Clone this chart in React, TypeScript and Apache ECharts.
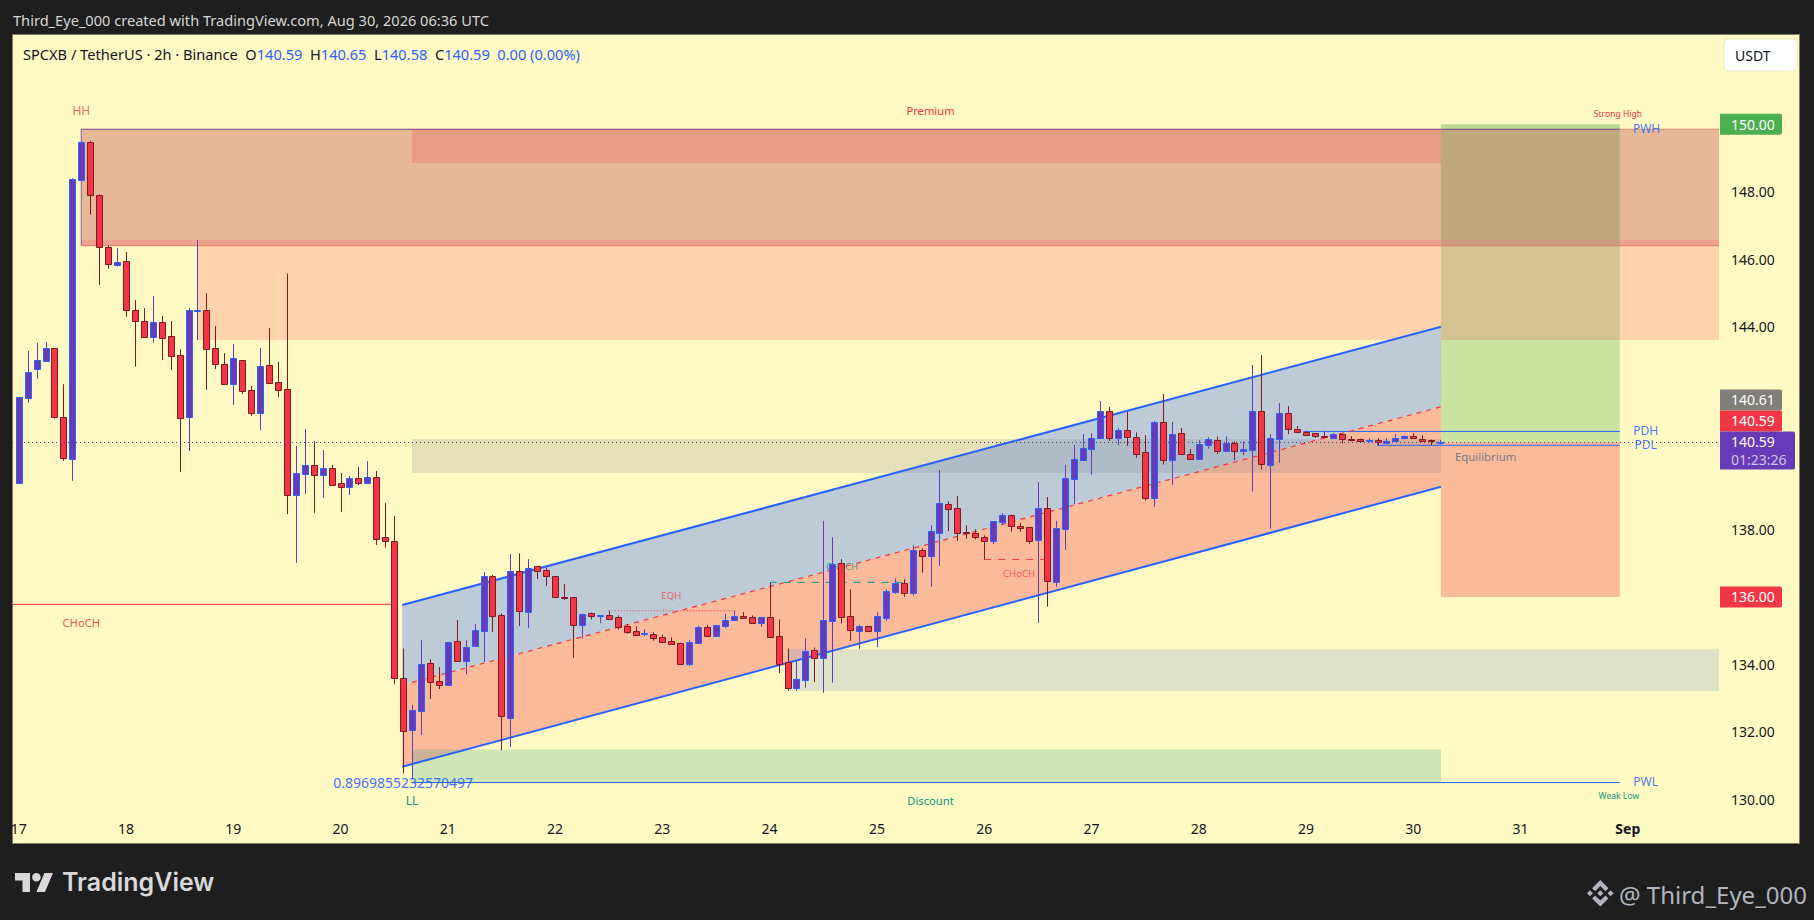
// App.tsx — SPCXB / TetherUS 2h chart with SMC zones, channel and long position box
import { useEffect, useRef } from "react";
import * as echarts from "echarts";

// open, high, low, close per 2h bar, bar 0 = Aug 17 00:00
const ohlc: number[][] = [
  [139.38, 141.91, 139.38, 141.91], [141.90, 143.28, 141.75, 142.65], [142.74, 143.52, 142.46, 143.01], [143.00, 143.55, 142.96, 143.36],
  [143.36, 143.36, 141.28, 141.34], [141.32, 142.30, 140.03, 140.12], [140.09, 148.40, 139.44, 148.38], [148.36, 149.50, 148.36, 149.46],
  [149.46, 149.50, 147.32, 147.89], [147.89, 147.92, 145.24, 146.35], [146.35, 146.41, 145.72, 145.85], [145.84, 146.33, 145.78, 145.91],
  [145.94, 146.21, 144.30, 144.49], [144.49, 144.79, 142.82, 144.18], [144.16, 144.55, 143.71, 143.71], [143.71, 144.91, 143.53, 144.13],
  [144.13, 144.32, 143.02, 143.68], [143.72, 144.17, 142.72, 143.14], [143.16, 143.33, 139.70, 141.31], [141.34, 144.56, 140.32, 144.50],
  [144.47, 146.57, 143.61, 144.49], [144.49, 144.99, 142.13, 143.35], [143.36, 144.02, 142.75, 142.91], [142.89, 143.22, 142.31, 142.31],
  [142.31, 143.49, 141.69, 143.09], [143.01, 143.01, 142.01, 142.11], [142.12, 142.25, 141.36, 141.46], [141.46, 143.37, 140.94, 142.83],
  [142.86, 143.96, 142.30, 142.34], [142.35, 142.96, 141.92, 142.14], [142.15, 145.58, 138.45, 139.03], [139.01, 140.47, 137.01, 139.66],
  [139.65, 140.97, 139.05, 139.90], [139.90, 140.61, 138.49, 139.62], [139.62, 140.35, 138.93, 139.81], [139.81, 139.91, 139.29, 139.31],
  [139.36, 139.67, 138.51, 139.26], [139.26, 139.58, 139.02, 139.51], [139.51, 139.85, 139.31, 139.38], [139.38, 140.02, 139.38, 139.54],
  [139.54, 139.73, 137.54, 137.72], [137.76, 138.78, 137.46, 137.66], [137.67, 138.39, 133.41, 133.59], [133.59, 134.47, 130.77, 132.04],
  [132.07, 132.80, 130.62, 132.64], [132.63, 134.72, 131.91, 134.00], [134.03, 134.15, 132.97, 133.49], [133.50, 133.92, 133.27, 133.40],
  [133.40, 134.65, 133.37, 134.65], [134.68, 135.31, 134.11, 134.11], [134.11, 134.72, 133.71, 134.53], [134.55, 135.20, 134.55, 135.01],
  [135.00, 136.73, 134.07, 136.62], [136.62, 136.65, 134.96, 135.44], [135.45, 135.51, 131.46, 132.48], [132.42, 137.27, 131.55, 136.76],
  [136.76, 137.29, 135.14, 135.59], [135.56, 137.12, 135.08, 136.87], [136.90, 136.91, 136.53, 136.78], [136.81, 136.87, 136.32, 136.63],
  [136.61, 136.61, 136.00, 136.00], [136.00, 136.38, 135.91, 135.99], [135.99, 136.00, 134.20, 135.18], [135.18, 135.51, 134.76, 135.48],
  [135.51, 135.54, 135.33, 135.44], [135.44, 135.45, 135.22, 135.45], [135.45, 135.58, 135.35, 135.35], [135.39, 135.45, 135.03, 135.12],
  [135.13, 135.19, 134.91, 134.97], [134.98, 135.13, 134.88, 134.88], [134.93, 135.04, 134.84, 134.94], [134.89, 134.95, 134.70, 134.79],
  [134.82, 134.89, 134.64, 134.67], [134.68, 134.80, 134.61, 134.61], [134.62, 134.65, 134.02, 134.02], [134.01, 134.72, 133.95, 134.65],
  [134.64, 135.14, 134.64, 135.10], [135.10, 135.17, 134.84, 134.85], [134.85, 135.17, 134.85, 135.16], [135.14, 135.49, 135.08, 135.33],
  [135.32, 135.60, 135.32, 135.42], [135.42, 135.55, 135.38, 135.38], [135.39, 135.45, 135.20, 135.24], [135.24, 135.39, 135.11, 135.39],
  [135.39, 136.42, 134.82, 134.82], [134.83, 135.33, 133.74, 134.02], [134.06, 134.47, 133.22, 133.31], [133.31, 134.11, 133.22, 133.56],
  [133.55, 134.77, 133.31, 134.39], [134.42, 134.50, 133.48, 134.20], [134.20, 138.25, 133.16, 135.33], [135.29, 137.77, 133.46, 136.97],
  [136.99, 137.12, 135.21, 135.41], [135.42, 136.23, 134.70, 135.03], [135.00, 135.17, 134.46, 135.13], [135.13, 135.13, 134.97, 134.99],
  [135.00, 135.55, 134.51, 135.42], [135.38, 136.23, 135.29, 136.16], [136.15, 136.55, 136.09, 136.42], [136.40, 136.53, 136.00, 136.12],
  [136.12, 137.53, 136.03, 137.38], [137.38, 137.44, 136.72, 137.22], [137.22, 138.12, 136.30, 137.94], [137.90, 139.76, 136.92, 138.77],
  [138.74, 138.83, 137.95, 138.61], [138.62, 138.99, 137.66, 137.90], [137.91, 138.12, 137.72, 137.90], [137.88, 138.00, 137.70, 137.78],
  [137.76, 137.82, 137.11, 137.66], [137.66, 138.24, 137.57, 138.24], [138.23, 138.48, 138.13, 138.44], [138.44, 138.44, 137.93, 138.09],
  [138.10, 138.19, 137.93, 138.04], [138.06, 138.06, 137.57, 137.67], [137.69, 139.40, 135.23, 138.62], [138.62, 138.96, 135.71, 136.46],
  [136.45, 138.25, 136.30, 138.03], [138.02, 139.91, 137.39, 139.51], [139.50, 140.50, 138.74, 140.07], [140.06, 140.82, 140.04, 140.40],
  [140.39, 140.85, 139.62, 140.70], [140.71, 141.80, 140.71, 141.50], [141.50, 141.62, 140.62, 140.71], [140.72, 141.00, 140.50, 140.93],
  [140.93, 141.48, 140.47, 140.74], [140.75, 140.87, 140.12, 140.24], [140.28, 140.79, 138.85, 138.94], [138.94, 141.21, 138.67, 141.17],
  [141.17, 142.01, 139.92, 140.04], [140.06, 141.18, 139.32, 140.81], [140.84, 141.00, 140.22, 140.22], [140.22, 140.38, 140.07, 140.07],
  [140.07, 140.64, 140.07, 140.52], [140.51, 140.73, 140.39, 140.67], [140.64, 140.75, 140.23, 140.31], [140.31, 140.75, 140.31, 140.55],
  [140.55, 140.61, 140.05, 140.31], [140.31, 140.61, 140.20, 140.37], [140.36, 142.87, 139.12, 141.52], [141.52, 143.16, 139.77, 139.94],
  [139.92, 140.82, 138.02, 140.70], [140.69, 141.74, 139.97, 141.46], [141.46, 141.65, 140.82, 140.96], [140.96, 141.06, 140.85, 140.89],
  [140.89, 140.91, 140.76, 140.80], [140.84, 140.84, 140.71, 140.78], [140.78, 140.90, 140.70, 140.75], [140.72, 140.85, 140.72, 140.81],
  [140.81, 140.81, 140.54, 140.69], [140.69, 140.76, 140.61, 140.68], [140.69, 140.69, 140.60, 140.61], [140.61, 140.70, 140.61, 140.66],
  [140.64, 140.70, 140.49, 140.58], [140.57, 140.70, 140.57, 140.61], [140.61, 140.82, 140.61, 140.72], [140.71, 140.78, 140.67, 140.78],
  [140.78, 140.85, 140.71, 140.71], [140.69, 140.79, 140.61, 140.63], [140.66, 140.66, 140.49, 140.61], [140.59, 140.65, 140.58, 140.59],
];

const dayTicks = [0, 12, 24, 36, 48, 60, 72, 84, 96, 108, 120, 132, 144, 156, 168, 180];
const dayLabels = ["17", "18", "19", "20", "21", "22", "23", "24", "25", "26", "27", "28", "29", "30", "31", "Sep"];
// 136, 140, 142 and 150 sit under the price tags, so only the tags show there
const priceTicks = [130, 132, 134, 138, 144, 146, 148];

const BAR_MIN = -0.75;
const BAR_MAX = 190.2;
const LAST = 140.59;

// zones: bar from, bar to, price top, price bottom
const backZones = [
  [20, BAR_MAX, 146.57, 143.61],  // premium OB
  [7, BAR_MAX, 149.85, 146.40],   // premium range
  [7, BAR_MAX, 146.57, 146.40],   // overlap of the two
  [44, 159.1, 149.85, 148.85],    // supply block
  [159.1, 179.1, 150.0, 149.85],  // long box, target side
  [159.1, 179.1, 149.85, 146.40],
  [159.1, 179.1, 146.57, 146.40],
  [159.1, 179.1, 146.40, 143.61],
  [159.1, 179.1, 143.61, 140.59],
  [159.1, 179.1, 140.59, 136.0],  // long box, stop side
];
const backFills = ["#FFD3AE", "#E6B898", "#EDA28E", "#E99C85", "#B9DC90", "#BEA87C", "#CC9A7C", "#D5C394", "#C9E4A1", "#FBBB9B"];

const frontZones = [
  [44, 159.1, 140.68, 139.67],   // equilibrium
  [44, 159.1, 131.48, 130.50],   // discount
  [86, BAR_MAX, 134.45, 133.21], // demand
];
const frontFills = ["rgba(120,123,134,0.2)", "rgba(8,153,129,0.2)", "rgba(120,160,210,0.25)"];

// ascending channel, left and right end
const channelBars = [42.9, 159.1];
const channelUpper = [135.76, 144.0];
const channelMiddle = [133.39, 141.63];
const channelLower = [130.97, 139.26];

// lines: bar, price, bar, price
const lines = [
  [7, 149.85, 179.1, 149.85],
  [179.1, 149.85, BAR_MAX, 149.85],
  [7, 149.85, 7, 146.40],
  [7, 146.40, BAR_MAX, 146.40],
  [BAR_MIN, 135.78, 42, 135.78],
  [44, 130.50, 179.1, 130.50],
  [143.7, 140.90, 179.1, 140.90],
  [152, 140.49, 179.1, 140.49],
  [152, 140.59, 152, 140.49],
  [66, 135.59, 80, 135.59],
  [84, 136.43, 100, 136.43],
  [108, 137.11, 115, 137.11],
  [channelBars[0], channelUpper[0], channelBars[1], channelUpper[1]],
  [channelBars[0], channelLower[0], channelBars[1], channelLower[1]],
  [channelBars[0], channelMiddle[0], channelBars[1], channelMiddle[1]],
];
const lineStyles = [
  { stroke: "#7A3F8F", lineWidth: 1 },
  { stroke: "#D98C73", lineWidth: 1 },
  { stroke: "#7A5FB0", lineWidth: 1 },
  { stroke: "#DE7F6C", lineWidth: 1 },
  { stroke: "#F23645", lineWidth: 1 },
  { stroke: "#2962FF", lineWidth: 1 },
  { stroke: "#2962FF", lineWidth: 1 },
  { stroke: "#2962FF", lineWidth: 1 },
  { stroke: "#2962FF", lineWidth: 1 },
  { stroke: "#F23645", lineWidth: 1, lineDash: [1, 2] },
  { stroke: "#089981", lineWidth: 1, lineDash: [7, 7] },
  { stroke: "#F23645", lineWidth: 1, lineDash: [7, 7] },
  { stroke: "#2962FF", lineWidth: 2 },
  { stroke: "#2962FF", lineWidth: 2 },
  { stroke: "#F23645", lineWidth: 1.2, lineDash: [5, 5] },
];

// chart labels
const labelTexts = ["HH", "Premium", "Strong High", "PWH", "PDH", "PDL", "PWL", "Weak Low", "Discount", "LL", "0.8969855232570497", "Equilibrium", "EQH", "CHoCH", "CHoCH", "CHoCH"];
const labelBars = [7, 102, 178.9, 182.1, 182, 182, 182, 179, 102, 44, 43, 164.1, 73, 7, 92.1, 111.9];
const labelPrices = [150.42, 150.42, 150.30, 149.86, 140.92, 140.50, 130.52, 130.11, 129.98, 129.96, 130.49, 140.17, 136.05, 135.25, 136.91, 136.68];
const labelColors = ["#F23645", "#F23645", "#F23645", "#2962FF", "#2962FF", "#2962FF", "#2962FF", "#089981", "#089981", "#089981", "#2962FF", "#787B86", "#F23645", "#F23645", "#089981", "#F23645"];
const labelSizes = [12, 11.2, 8.6, 12, 12, 12, 12, 8.6, 11.2, 12, 14, 11.4, 9.6, 11.2, 9.6, 9.6];
const labelAlpha = [0.75, 1, 1, 0.85, 0.85, 0.85, 0.85, 1, 1, 1, 0.9, 1, 0.75, 0.9, 0.8, 0.75];

// price tags on the right scale
const tagTexts = ["150.00", "140.61", "140.59", "140.59", "136.00"];
const tagPrices = [150, LAST, LAST, LAST, 136];
const tagFills = ["#4CAF50", "#807F78", "#F23645", "#673AB7", "#F23645"];
const tagShift = [0, -42, -21, 0, 0];

const FONT = '"Noto Sans", sans-serif';
const UP_FILL = "#673AB7";
const UP_BORDER = "#2962FF";
const DOWN_FILL = "#F23645";
const DOWN_BORDER = "#801922";

echarts.graphic.registerShape("tvLogo", echarts.graphic.extendPath("M14 22H7V11H0V4h14v18zM28 22h-8l7.5-18h8L28 22zM16 8a4 4 0 1 0 8 0a4 4 0 1 0-8 0z", {}));
echarts.graphic.registerShape("bnbLogo", echarts.graphic.extendPath("M38.73 53.2l24.59-24.58 24.6 24.6 14.3-14.31L63.32 0 24.42 38.9l14.31 14.3zM0 63.31l14.3-14.31 14.31 14.31-14.31 14.3zM38.73 73.41l24.59 24.59 24.6-24.6 14.31 14.29-38.9 38.91-38.91-38.88-.02-.02zM98 63.31l14.3-14.31 14.31 14.3-14.31 14.32zM77.83 63.3L63.32 48.78 52.59 59.51l-1.24 1.23-2.54 2.54 14.51 14.5 14.51-14.47z", {}));

const crisp = (v: number) => Math.round(v) + 0.5;

function renderCandle(_: unknown, api: any) {
  const [i, o, h, l, c] = [0, 1, 2, 3, 4].map((d) => api.value(d));
  const up = c >= o;
  const x = crisp(api.coord([i, o])[0]);
  const top = crisp(api.coord([i, Math.max(o, c)])[1]);
  const bottom = crisp(api.coord([i, Math.min(o, c)])[1]);
  return {
    type: "group",
    children: [
      {
        type: "line",
        shape: { x1: x, y1: api.coord([i, h])[1], x2: x, y2: api.coord([i, l])[1] },
        style: { stroke: up ? UP_FILL : DOWN_BORDER, lineWidth: 1 },
      },
      {
        type: "rect",
        shape: { x: x - 3, y: top, width: 6, height: Math.max(bottom - top, 1) },
        style: { fill: up ? UP_FILL : DOWN_FILL, stroke: up ? UP_BORDER : DOWN_BORDER, lineWidth: 1 },
      },
    ],
  };
}

function zoneSeries(zones: number[][], fills: string[], z: number) {
  return {
    type: "custom", silent: true, z,
    data: zones,
    encode: { x: [0, 1], y: [2, 3] },
    renderItem: (p: { dataIndex: number }, api: any) => {
      const a = api.coord([api.value(0), api.value(2)]);
      const b = api.coord([api.value(1), api.value(3)]);
      return {
        type: "rect",
        shape: { x: a[0], y: a[1], width: b[0] - a[0], height: b[1] - a[1] },
        style: { fill: fills[p.dataIndex] },
      };
    },
  };
}

function channelSeries(top: number[], bottom: number[], fill: string) {
  return {
    type: "custom", silent: true, z: 2,
    data: channelBars.map((b, i) => [b, top[i], bottom[i]]),
    encode: { x: 0, y: [1, 2] },
    renderItem: (p: { dataIndex: number }, api: any) => {
      if (p.dataIndex !== 0) return null;
      const points = [
        api.coord([channelBars[0], top[0]]),
        api.coord([channelBars[1], top[1]]),
        api.coord([channelBars[1], bottom[1]]),
        api.coord([channelBars[0], bottom[0]]),
      ];
      return { type: "polygon", shape: { points }, style: { fill } };
    },
  };
}

export default function App() {
  const ref = useRef<HTMLDivElement>(null);

  useEffect(() => {
    if (!ref.current) return;
    const inst = echarts.init(ref.current, undefined, { renderer: "svg" });

    inst.setOption({
      animation: false,
      backgroundColor: "#1E1E1E",
      textStyle: { fontFamily: FONT },
      grid: { left: 12, top: 34, width: 1707, height: 782 },
      xAxis: {
        type: "value", min: BAR_MIN, max: BAR_MAX,
        axisLine: { show: false }, axisTick: { show: false }, splitLine: { show: false },
        axisLabel: {
          customValues: dayTicks, margin: 5, color: "#131722", fontSize: 14, fontFamily: FONT,
          formatter: (v: number) => {
            const label = dayLabels[dayTicks.indexOf(v)];
            return label === "Sep" ? `{b|${label}}` : label;
          },
          rich: { b: { fontWeight: 700, fontSize: 14, color: "#131722", fontFamily: FONT } },
        },
      },
      yAxis: {
        type: "value", position: "right", min: 129.51, max: 152.672,
        axisLine: { show: false }, axisTick: { show: false }, splitLine: { show: false },
        axisLabel: {
          customValues: priceTicks, margin: 12, color: "#131722", fontSize: 14, fontFamily: FONT,
          padding: [0, 0, 2, 0],
          formatter: (v: number) => v.toFixed(2),
        },
      },
      graphic: [
        { type: "rect", z: 0, shape: { x: 12.5, y: 34.5, width: 1787, height: 809 }, style: { fill: "#FFF9C4", stroke: "#7D7B66", lineWidth: 1 } },
        { type: "text", z: 1, style: { x: 13, y: 19.5, text: "Third_Eye_000 created with TradingView.com, Aug 30, 2026 06:36 UTC", fill: "#D6D6D6", fontSize: 14.6, fontFamily: FONT, verticalAlign: "middle" } },
        {
          type: "text", z: 1,
          style: {
            x: 23, y: 53.5, verticalAlign: "middle", fontFamily: FONT, fontSize: 14.6, fill: "#131722",
            text: "SPCXB / TetherUS · 2h · Binance  O{v|140.59}  H{v|140.65}  L{v|140.58}  C{v|140.59}  {v|0.00 (0.00%)}",
            rich: { v: { fill: "#2962FF", fontSize: 14.6, fontFamily: FONT } },
          },
        },
        { type: "rect", z: 1, shape: { x: 1724, y: 39, width: 73, height: 32, r: 5 }, style: { fill: "#FFFFFF", stroke: "#E8E6C8", lineWidth: 1 } },
        { type: "text", z: 1, style: { x: 1735, y: 55, text: "USDT", fill: "#131722", fontSize: 14, fontFamily: FONT, verticalAlign: "middle" } },
        { type: "tvLogo", z: 1, x: 15, y: 868.8, scaleX: 1.07, scaleY: 1.06, style: { fill: "#D9D9DC" } },
        { type: "text", z: 1, style: { x: 62, y: 882, text: "TradingView", fill: "#D9D9DC", fontSize: 25, fontWeight: 600, fontFamily: "Inter, sans-serif", verticalAlign: "middle" } },
        { type: "bnbLogo", z: 1, x: 1587, y: 880, scaleX: 0.21, scaleY: 0.21, style: { fill: "#B2B5BE" } },
        { type: "text", z: 1, style: { x: 1619, y: 894, text: "@ Third_Eye_000", fill: "#B2B5BE", fontSize: 24, fontFamily: FONT, verticalAlign: "middle" } },
      ],
      series: [
        zoneSeries(backZones, backFills, 2),
        channelSeries(channelUpper, channelMiddle, "#BDCBD6"),
        channelSeries(channelMiddle, channelLower, "#FBBB9B"),
        zoneSeries(frontZones, frontFills, 3),
        {
          type: "custom", silent: true, z: 4,
          data: lines,
          encode: { x: [0, 2], y: [1, 3] },
          renderItem: (p: { dataIndex: number }, api: any) => {
            const a = api.coord([api.value(0), api.value(1)]);
            const b = api.coord([api.value(2), api.value(3)]);
            return { type: "line", shape: { x1: a[0], y1: a[1], x2: b[0], y2: b[1] }, style: lineStyles[p.dataIndex] };
          },
        },
        {
          type: "custom", silent: true, z: 5,
          data: labelBars.map((b, i) => [b, labelPrices[i]]),
          encode: { x: 0, y: 1 },
          renderItem: (p: { dataIndex: number }, api: any) => {
            const i = p.dataIndex;
            const [x, y] = api.coord([api.value(0), api.value(1)]);
            return {
              type: "text",
              style: {
                x, y, text: labelTexts[i], fill: labelColors[i], fontSize: labelSizes[i], fontFamily: FONT,
                opacity: labelAlpha[i], align: "center", verticalAlign: "middle",
              },
            };
          },
        },
        {
          type: "custom", silent: true, z: 6,
          data: ohlc.map((r, i) => [i, ...r]),
          encode: { x: 0, y: [1, 2, 3, 4] },
          renderItem: renderCandle,
        },
        {
          type: "custom", silent: true, z: 7,
          data: [[BAR_MIN, LAST, BAR_MAX]],
          encode: { x: [0, 2], y: 1 },
          renderItem: (_: unknown, api: any) => {
            const a = api.coord([api.value(0), api.value(1)]);
            const b = api.coord([api.value(2), api.value(1)]);
            return {
              type: "line",
              shape: { x1: a[0], y1: crisp(a[1]), x2: b[0], y2: crisp(a[1]) },
              style: { stroke: "#4B3F8F", lineWidth: 1, lineDash: [1, 3] },
            };
          },
        },
        {
          type: "custom", silent: true, z: 8,
          data: tagPrices.map((p) => [BAR_MAX, p]),
          encode: { x: 0, y: 1 },
          renderItem: (p: { dataIndex: number }, api: any) => {
            const i = p.dataIndex;
            const [x, yy] = api.coord([api.value(0), api.value(1)]);
            const y = yy + tagShift[i];
            const two = i === 3;
            const children: object[] = [
              { type: "rect", shape: { x: x + 1, y: y - 10.5, width: two ? 75 : 62, height: two ? 38 : 21, r: [0, 2, 2, 0] }, style: { fill: tagFills[i] } },
              { type: "text", style: { x: x + 12, y, text: tagTexts[i], fill: "#FFFFFF", fontSize: 14, fontFamily: FONT, verticalAlign: "middle" } },
            ];
            if (two) children.push({ type: "text", style: { x: x + 12, y: y + 18, text: "01:23:26", fill: "#D1C4E9", fontSize: 14, fontFamily: FONT, verticalAlign: "middle" } });
            return { type: "group", children };
          },
        },
      ],
    });

    return () => inst.dispose();
  }, []);

  return <div ref={ref} style={{ position: "fixed", left: 0, top: 0, width: 1814, height: 920 }} />;
}
